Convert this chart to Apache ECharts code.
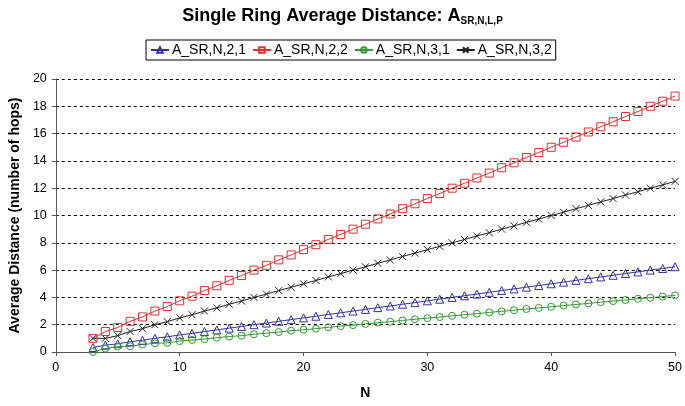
<!DOCTYPE html>
<html><head><meta charset="utf-8">
<script src="https://cdn.jsdelivr.net/npm/echarts@6/dist/echarts.min.js"></script>
<style>html,body{margin:0;padding:0;background:#fff}#c{width:685px;height:406px}</style>
</head><body><div id="c"></div>
<script>
var nValues = [3,4,5,6,7,8,9,10,11,12,13,14,15,16,17,18,19,20,21,22,23,24,25,26,27,28,29,30,31,32,33,34,35,36,37,38,39,40,41,42,43,44,45,46,47,48,49,50];
var seriesNames = ['A_SR,N,2,1','A_SR,N,2,2','A_SR,N,3,1','A_SR,N,3,2'];
var aSR21 = [0.33,0.50,0.60,0.75,0.86,1.00,1.11,1.25,1.36,1.50,1.62,1.75,1.87,2.00,2.12,2.25,2.37,2.50,2.62,2.75,2.87,3.00,3.12,3.25,3.37,3.50,3.62,3.75,3.87,4.00,4.12,4.25,4.37,4.50,4.62,4.75,4.87,5.00,5.12,5.25,5.37,5.50,5.62,5.75,5.87,6.00,6.12,6.25];
var aSR22 = [1.00,1.50,1.80,2.25,2.57,3.00,3.33,3.75,4.09,4.50,4.85,5.25,5.60,6.00,6.35,6.75,7.11,7.50,7.86,8.25,8.61,9.00,9.36,9.75,10.11,10.50,10.86,11.25,11.61,12.00,12.36,12.75,13.11,13.50,13.86,14.25,14.62,15.00,15.37,15.75,16.12,16.50,16.87,17.25,17.62,18.00,18.37,18.75];
var aSR31 = [0.00,0.25,0.40,0.42,0.55,0.63,0.67,0.80,0.88,0.94,1.05,1.13,1.20,1.30,1.38,1.46,1.56,1.63,1.71,1.81,1.89,1.97,2.06,2.15,2.22,2.31,2.40,2.48,2.56,2.65,2.73,2.81,2.90,2.98,3.06,3.15,3.23,3.31,3.40,3.48,3.56,3.65,3.73,3.81,3.90,3.98,4.06,4.15];
var aSR32 = [1.00,1.00,1.20,1.50,1.71,2.00,2.22,2.50,2.73,3.00,3.23,3.50,3.73,4.00,4.24,4.50,4.74,5.00,5.24,5.50,5.74,6.00,6.24,6.50,6.74,7.00,7.24,7.50,7.74,8.00,8.24,8.50,8.74,9.00,9.24,9.50,9.74,10.00,10.24,10.50,10.74,11.00,11.24,11.50,11.74,12.00,12.24,12.50];
var xTicks = [0,10,20,30,40,50];
var yTicks = [0,2,4,6,8,10,12,14,16,18,20];

function pairs(arr){ return nValues.map(function(n,i){ return [n, arr[i]]; }); }

var FONT = 'Liberation Sans, Arial, sans-serif';
var colors = ['#33339a','#dd3333','#339933','#222222'];
var symbols = ['triangle','rect','circle','path://M0,0L10,10M10,0L0,10'];
var sizes = [8,8,7,7];
var dataSets = [aSR21, aSR22, aSR31, aSR32];

var series = seriesNames.map(function(name,i){
  return {
    name: name, type: 'line', data: pairs(dataSets[i]),
    symbol: symbols[i], symbolSize: sizes[i], showAllSymbol: true,
    lineStyle: {color: colors[i], width: 1},
    itemStyle: {color: 'rgba(255,255,255,0)', borderColor: colors[i], borderWidth: 1},
    emphasis: {disabled: true}, animation: false, z: i === 1 ? 3 : 2
  };
});

var chart = echarts.init(document.getElementById('c'));
chart.setOption({
  backgroundColor: '#fff',
  animation: false,
  title: {
    text: '{a|Single Ring Average Distance: A}{s|SR,N,L,P}',
    left: 'center', top: 1,
    textStyle: {rich: {
      a: {fontFamily: FONT, fontWeight: 'bold', fontSize: 18, color: '#000'},
      s: {fontFamily: FONT, fontWeight: 'bold', fontSize: 10, color: '#000', verticalAlign: 'bottom', padding: [10,0,0,0]}
    }}
  },
  legend: {
    data: seriesNames, left: 146, top: 40, width: 440,
    borderColor: '#000', borderWidth: 1, padding: [3,4,3,4],
    itemGap: 6, itemWidth: 18, itemHeight: 7,
    textStyle: {fontFamily: FONT, fontSize: 14, color: '#000', padding: [0,0,0,-2]}
  },
  grid: {left: 53, right: 7, top: 79, bottom: 54, containLabel: false},
  xAxis: {
    type: 'value', min: 0, max: 50, interval: 10,
    name: 'N', nameLocation: 'middle', nameGap: 34,
    nameTextStyle: {fontFamily: FONT, fontWeight: 'bold', fontSize: 14, color: '#000'},
    axisLine: {lineStyle: {color: '#555', width: 1}},
    axisTick: {show: true, length: 4, inside: false, lineStyle: {color: '#555'}},
    axisLabel: {fontFamily: FONT, fontSize: 12.5, color: '#000', margin: 9,
      formatter: function(v){ return xTicks.indexOf(v) >= 0 ? String(v) : ''; }},
    splitLine: {show: false}
  },
  yAxis: {
    type: 'value', min: 0, max: 20, interval: 2,
    name: 'Average Distance (number of hops)', nameLocation: 'middle', nameGap: 31,
    nameTextStyle: {fontFamily: FONT, fontWeight: 'bold', fontSize: 14, color: '#000'},
    axisLine: {show: true, lineStyle: {color: '#555', width: 1}},
    axisTick: {show: true, length: 4, lineStyle: {color: '#555'}},
    axisLabel: {fontFamily: FONT, fontSize: 12.5, color: '#000', margin: 9,
      formatter: function(v){ return yTicks.indexOf(v) >= 0 ? String(v) : ''; }},
    splitLine: {show: true, lineStyle: {color: '#000', type: [3,3], width: 1}}
  },
  series: series
});
</script></body></html>
